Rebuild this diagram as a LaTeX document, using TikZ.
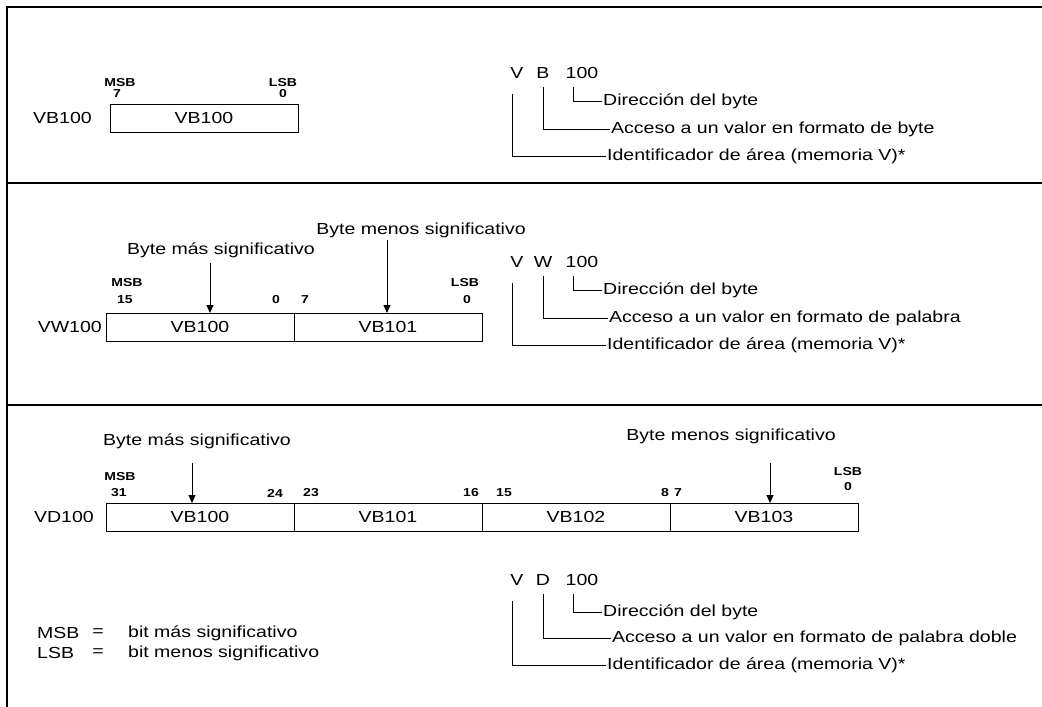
\documentclass[tikz,border=0pt]{standalone}
\usepackage{fontspec}
\setmainfont{Liberation Sans}[FakeStretch=1.22]
\usetikzlibrary{arrows.meta,positioning}

\begin{document}
\begin{tikzpicture}[x=1pt,y=-1pt,
 cell/.style={draw,line width=1pt,minimum width=188pt,minimum height=28pt,
   inner sep=0pt,outer sep=0pt,font=\fontsize{16}{18}\selectfont},
 lbl/.style={font=\fontsize{16}{18}\selectfont,inner sep=1pt},
 txt/.style={font=\fontsize{16}{18}\selectfont,anchor=west,inner sep=1pt},
 bitnum/.style={font=\fontsize{11.5}{13}\selectfont\bfseries,inner sep=0pt},
 arr/.style={-{Triangle[length=8pt,width=7pt]},line width=1pt},
 brk/.style={line width=1pt},
 rule/.style={line width=1.4pt}]
 \useasboundingbox[fill=white] (0,0) rectangle (1042,707);
 % frame and section rules
 \draw[rule] (1042,7) -- (7,7) -- (7,707);
 \draw[rule] (7,183) -- (1042,183);
 \draw[rule] (7,405) -- (1042,405);

 % --- byte VB100
 \node[cell] (b10) at (204,118) {VB100};
 \node[lbl,left=17pt of b10] (nb) {VB100};
 \node[bitnum] (msb1) at (120,83) {MSB};
 \node[bitnum] (n17) at (117,94) {7};
 \node[bitnum] (lsb1) at (283,83) {LSB};
 \node[bitnum] (n10) at (283,94) {0};
 \node[lbl] (v1) at (517,73) {V};
 \node[lbl] (t1) at (543,73) {B};
 \node[lbl] (o1) at (582,73) {100};
 \node[txt] (dir1) at (602,101) {Dirección del byte};
 \node[txt] (acc1) at (610,129) {Acceso a un valor en formato de byte};
 \node[txt] (id1) at (606,156) {Identificador de área (memoria V)*};
 \draw[brk,shorten <=14pt] ([xshift=-5pt]v1.south) |- (id1.west);
 \draw[brk,shorten <=7pt] (t1.south) |- (acc1.west);
 \draw[brk,shorten <=7pt] ([xshift=-9pt]o1.south) |- (dir1.west);

 % --- word VW100
 \node[cell] (w20) at (200,327) {VB100};
 \node[cell,right=0pt of w20] (w21) {VB101};
 \node[lbl,left=3pt of w20] (nw) {VW100};
 \node[lbl] (hi2) at (221,250) {Byte más significativo};
 \node[lbl] (lo2) at (421,230) {Byte menos significativo};
 \coordinate (a21) at (210,263);
 \coordinate (a22) at (387,240);
 \draw[arr] (a21) -- (a21 |- w20.north);
 \draw[arr] (a22) -- (a22 |- w21.north);
 \node[bitnum] (msb2) at (127,283) {MSB};
 \node[bitnum] (n215) at (125,300) {15};
 \node[bitnum] (n20a) at (276,300) {0};
 \node[bitnum] (n27) at (305,300) {7};
 \node[bitnum] (lsb2) at (465,283) {LSB};
 \node[bitnum] (n20b) at (467,300) {0};
 \node[lbl] (v2) at (517,262) {V};
 \node[lbl] (t2) at (543,262) {W};
 \node[lbl] (o2) at (582,262) {100};
 \node[txt] (dir2) at (602,290) {Dirección del byte};
 \node[txt] (acc2) at (608,318) {Acceso a un valor en formato de palabra};
 \node[txt] (id2) at (606,345) {Identificador de área (memoria V)*};
 \draw[brk,shorten <=14pt] ([xshift=-5pt]v2.south) |- (id2.west);
 \draw[brk,shorten <=7pt] (t2.south) |- (acc2.west);
 \draw[brk,shorten <=7pt] ([xshift=-9pt]o2.south) |- (dir2.west);

 % --- double word VD100
 \node[cell] (d30) at (200,517) {VB100};
 \node[cell,right=0pt of d30] (d31) {VB101};
 \node[cell,right=0pt of d31] (d32) {VB102};
 \node[cell,right=0pt of d32] (d33) {VB103};
 \node[lbl,left=11pt of d30] (nd) {VD100};
 \node[lbl] (hi3) at (197,441) {Byte más significativo};
 \node[lbl] (lo3) at (731,436) {Byte menos significativo};
 \coordinate (a31) at (192,463);
 \coordinate (a32) at (770,463);
 \draw[arr] (a31) -- (a31 |- d30.north);
 \draw[arr] (a32) -- (a32 |- d33.north);
 \node[bitnum] (msb3) at (120,477) {MSB};
 \node[bitnum] (n331) at (119,493) {31};
 \node[bitnum] (n324) at (275,493) {24};
 \node[bitnum] (n323) at (311,493) {23};
 \node[bitnum] (n316) at (471,493) {16};
 \node[bitnum] (n315) at (504,493) {15};
 \node[bitnum] (n38) at (665,493) {8};
 \node[bitnum] (n37) at (678,493) {7};
 \node[bitnum] (lsb3) at (848,472) {LSB};
 \node[bitnum] (n30) at (848,487) {0};
 \node[lbl] (v3) at (517,580) {V};
 \node[lbl] (t3) at (543,580) {D};
 \node[lbl] (o3) at (582,580) {100};
 \node[txt] (dir3) at (602,612) {Dirección del byte};
 \node[txt] (acc3) at (611,638) {Acceso a un valor en formato de palabra doble};
 \node[txt] (id3) at (606,665) {Identificador de área (memoria V)*};
 \draw[brk,shorten <=14pt] ([xshift=-5pt]v3.south) |- (id3.west);
 \draw[brk,shorten <=7pt] (t3.south) |- (acc3.west);
 \draw[brk,shorten <=7pt] ([xshift=-9pt]o3.south) |- (dir3.west);

 % legend
 \node[lbl,anchor=west] (kmsb) at (36,633) {MSB};
 \node[lbl] (emsb) at (98,633) {=};
 \node[lbl,anchor=west] (tmsb) at (127,633) {bit más significativo};
 \node[lbl,anchor=west] (klsb) at (36,653) {LSB};
 \node[lbl] (elsb) at (98,653) {=};
 \node[lbl,anchor=west] (tlsb) at (127,653) {bit menos significativo};
\end{tikzpicture}
\end{document}
